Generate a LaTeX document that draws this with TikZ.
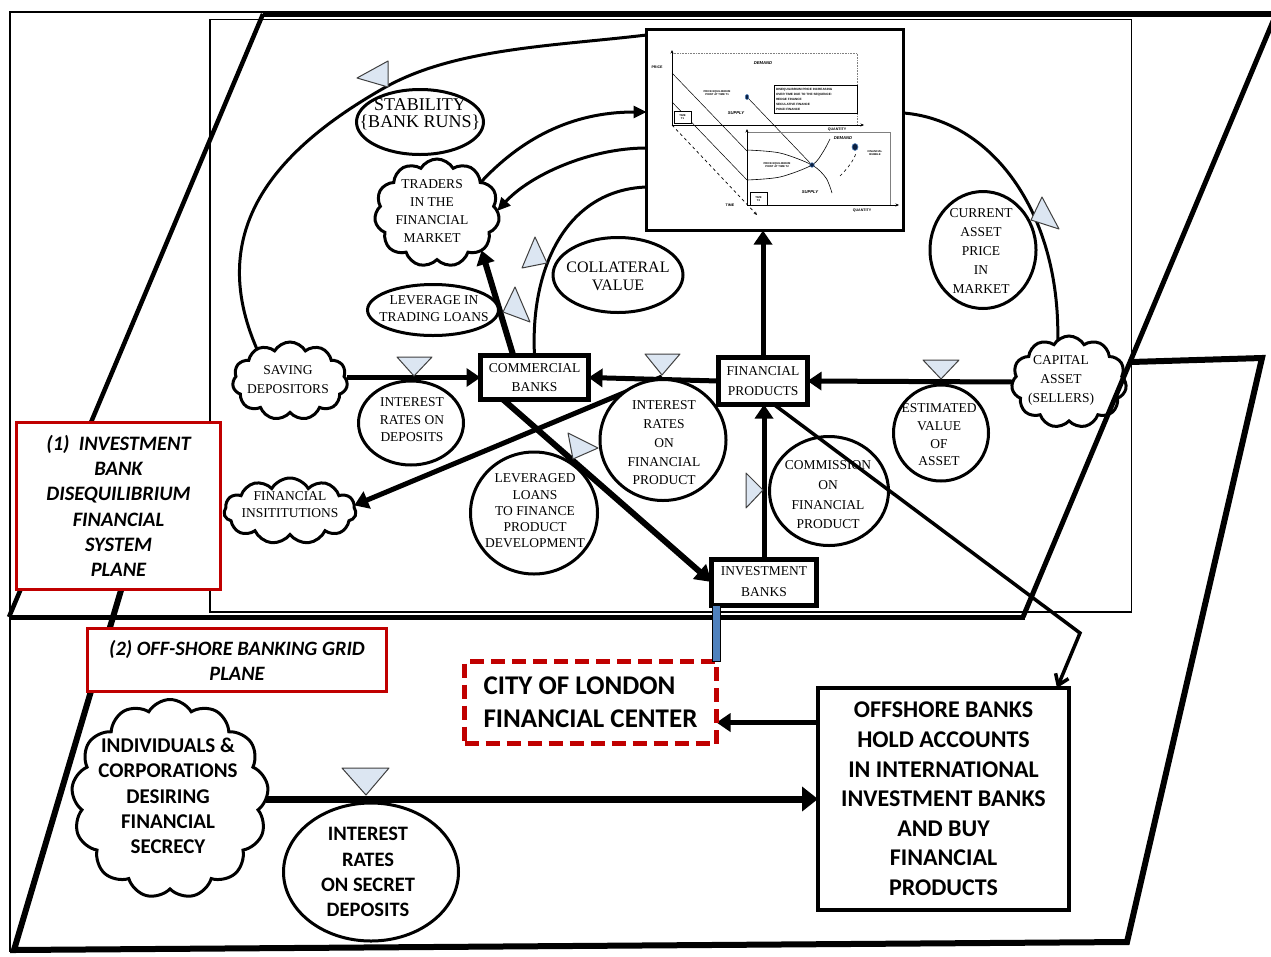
\documentclass[tikz,border=0pt]{standalone}
\usepackage{fontspec}
\setmainfont{Liberation Serif}
\newfontfamily\calfont{Carlito}
\newfontfamily\chfont{Liberation Sans}
\usetikzlibrary{shapes.geometric,shapes.symbols,arrows.meta,calc}
\pgfdeclarelayer{back}
\pgfdeclarelayer{edges}
\pgfdeclarelayer{front}
\pgfsetlayers{back,edges,main,front}
\definecolor{valveblue}{HTML}{DCE6F2}
\definecolor{boxred}{HTML}{C00000}
\definecolor{barblue}{HTML}{4F81BD}
\definecolor{dotnavy}{HTML}{0B1F3F}
\tikzset{
  every node/.style={inner sep=0pt, outer sep=0pt},
  txt/.style={align=center, font=\fontsize{13.5}{#1}\selectfont},
  txt/.default=18,
  ell/.style={ellipse, draw, line width=3pt, fill=white},
  cld/.style={cloud, cloud puffs=#1, cloud puff arc=120, cloud ignores aspect, draw, line width=3pt, fill=white},
  cld/.default=11,
  rbox/.style={rectangle, draw, line width=5pt, fill=white, align=center},
  flow/.style={line width=5pt, -{Triangle[length=14pt,width=18pt]}},
  link/.style={line width=3pt},
  linkarr/.style={line width=3pt, -{Triangle[length=13pt,width=12pt]}},
  valve/.style={fill=valveblue, draw=black!75, line width=1pt, line join=round},
  plane/.style={line width=#1},
  redbox/.style={rectangle, draw=boxred, line width=3pt, fill=white, align=center},
  chb/.style={font=\chfont\bfseries\fontsize{3.6}{4}\selectfont},
  chbi/.style={font=\chfont\bfseries\itshape\fontsize{4.2}{5}\selectfont},
  cht/.style={align=center, font=\chfont\bfseries\fontsize{2.7}{3.2}\selectfont},
  chline/.style={line width=0.5pt},
  charr/.style={line width=0.7pt, -{Stealth[length=3.5pt,width=3pt]}},
}
\begin{document}
\begin{tikzpicture}[x=1pt,y=-1pt]
\useasboundingbox (0,0) rectangle (1271,956);

% ---------- shapes of the diagram ----------
% price chart
\node[draw, line width=3pt, fill=white, minimum width=257pt, minimum height=201pt] (chart) at (775,130) {};

% ellipses
\node[ell, minimum width=127pt, minimum height=65pt] (stab) at (420,122) {};
\node[txt, font=\fontsize{18}{17.5}\selectfont] (stabT) at (420,114) {STABILITY\\\{BANK RUNS\}};
\node[ell, minimum width=131pt, minimum height=51pt] (lev) at (433,310) {};
\node[txt=17] (levT) at (434,309) {LEVERAGE IN\\TRADING LOANS};
\node[ell, minimum width=130pt, minimum height=75pt] (coll) at (618,275) {};
\node[txt, font=\fontsize{16}{18}\selectfont] (collT) at (618,276) {COLLATERAL\\VALUE};
\node[ell, minimum width=105pt, minimum height=84pt] (ird) at (411,423) {};
\node[txt=17.5] (irdT) at (412,420) {INTEREST\\RATES ON\\DEPOSITS};
\node[ell, minimum width=126pt, minimum height=121pt] (irfp) at (663,440) {};
\node[txt=18.75] (irfpT) at (664,443) {INTEREST\\RATES\\ON\\FINANCIAL\\PRODUCT};
\node[ell, minimum width=127pt, minimum height=122pt] (llf) at (534,513) {};
\node[txt=16.25] (llfT) at (535,511) {LEVERAGED\\LOANS\\TO FINANCE\\PRODUCT\\DEVELOPMENT};
\node[ell, minimum width=119pt, minimum height=109pt] (comm) at (829,491) {};
\node[txt=19.7] (commT) at (828,495) {COMMISSION\\ON\\FINANCIAL\\PRODUCT};
\node[ell, minimum width=95pt, minimum height=96pt] (est) at (941,433) {};
\node[txt=17.7] (estT) at (939,435) {ESTIMATED\\VALUE\\OF\\ASSET};
\node[ell, minimum width=106pt, minimum height=117pt] (cur) at (983,250) {};
\node[txt=19] (curT) at (981,251) {CURRENT\\ASSET\\PRICE\\IN\\MARKET};
\node[ell, minimum width=175pt, minimum height=138pt] (irsd) at (371,872) {};
\node[align=center, font=\calfont\bfseries\fontsize{20.5}{25.3}\selectfont] (irsdT) at (368,872) {INTEREST\\RATES\\ON SECRET\\DEPOSITS};

% clouds
\node[cld, minimum width=125pt, minimum height=108pt] (trad) at (437,213) {};
\node[txt=18] (tradT) at (432,211) {TRADERS\\IN THE\\FINANCIAL\\MARKET};
\node[cld, minimum width=115pt, minimum height=78pt] (sav) at (290,381) {};
\node[txt=19] (savT) at (288,380) {SAVING\\DEPOSITORS};
\node[cld, minimum width=132pt, minimum height=66pt] (fi) at (290,511) {};
\node[txt=17] (fiT) at (290,505) {FINANCIAL\\INSITITUTIONS};
\node[cld, minimum width=115pt, minimum height=92pt] (cap) at (1069,382) {};
\node[txt=19] (capT) at (1061,380) {CAPITAL\\ASSET\\(SELLERS)};
\node[cld=13, minimum width=197pt, minimum height=199pt] (ind) at (170,799) {};
\node[align=center, font=\calfont\bfseries\fontsize{21}{25.2}\selectfont] (indT) at (168,796) {INDIVIDUALS \&\\CORPORATIONS\\DESIRING\\FINANCIAL\\SECRECY};

% banks
\node[rbox, minimum width=108pt, minimum height=44pt, font=\fontsize{13.5}{19}\selectfont] (cb) at (534.5,377.5) {COMMERCIAL\\BANKS};
\node[rbox, minimum width=89pt, minimum height=47pt, font=\fontsize{13.5}{20}\selectfont] (fp) at (763,381) {FINANCIAL\\PRODUCTS};
\node[rbox, minimum width=105pt, minimum height=46pt, font=\fontsize{13.5}{21}\selectfont] (ib) at (764,582) {INVESTMENT\\BANKS};

% off-shore plane boxes
\node[draw=boxred, line width=5pt, dash pattern=on 14pt off 7pt, fill=white, minimum width=252pt, minimum height=82pt, align=left, font=\calfont\bfseries\fontsize{27}{33}\selectfont] (city) at (590.5,702.5) {CITY OF LONDON\\FINANCIAL CENTER};
\node[draw, line width=3.5pt, fill=white, minimum width=251pt, minimum height=222pt, align=center, font=\calfont\bfseries\fontsize{24}{29.6}\selectfont] (off) at (943.5,799) {OFFSHORE BANKS\\HOLD ACCOUNTS\\IN INTERNATIONAL\\INVESTMENT BANKS\\AND BUY\\FINANCIAL\\PRODUCTS};

% ---------- chart contents ----------
% upper panel (time T1)
\draw[gray, densely dotted, line width=0.6pt] (672,53) -- (857,53) -- (857,125);
\draw[charr] (672,125) -- (672,50);
\draw[charr] (672,125) -- (864,125);
\draw[chline] (672,73) -- (747,151);
\draw[chline] (672,102) -- (747,180);
\draw[chline] (747,97) -- (812,165);
\draw[charr, dashed] (672,125) -- (757,215);
\node[chb] (cPrice) at (657,67) {PRICE};
\node[chbi] (cDem1) at (763,63) {DEMAND};
\node[cht] (cEq1) at (717,93) {PRICE EQUILIBRIUM\\POINT AT TIME T1};
\filldraw[fill=dotnavy, draw=barblue, line width=0.5pt] (747,97) ellipse (1.8 and 2.6);
\node[chbi] (cSup1) at (736,113) {SUPPLY};
\node[draw, line width=0.6pt, fill=white, minimum width=17pt, minimum height=12pt, cht] (cT1) at (682.5,117) {TIME\\T1};
\draw[line width=0.8pt] (774,85) rectangle (857,113);
\node[cht, font=\chfont\bfseries\fontsize{3.1}{5}\selectfont, align=left, anchor=west] (cNote) at (776,99) {DISEQUILIBRIUM PRICE INCREASING\\OVER TIME DUE TO THE SEQUENCE:\\HEDGE FINANCE\\SECULATIVE FINANCE\\PONZI FINANCE};
\node[chb] (cQ1) at (837,130) {QUANTITY};
% lower panel (time T2)
\draw[gray, line width=0.6pt] (747,132) -- (890,132) -- (890,205);
\draw[charr] (747,205) -- (747,129);
\draw[charr] (747,205) -- (899,205);
\draw[line width=0.6pt] plot[smooth] coordinates {(747,150) (780,153) (812,165) (826,178) (832,193)};
\draw[line width=0.6pt] plot[smooth] coordinates {(747,180) (780,177) (812,165) (823,152) (830,139)};
\draw[line width=0.6pt, dashed] (840,176) .. controls (848,168) and (854,160) .. (856,153);
\filldraw[fill=dotnavy, draw=barblue, line width=0.5pt] (812,165) circle (2.3);
\filldraw[fill=dotnavy, draw=barblue, line width=0.6pt] (855,147) ellipse (3 and 3.5);
\node[chbi] (cDem2) at (843,138) {DEMAND};
\node[cht] (cBub) at (875,153) {FINANCIAL\\BUBBLE};
\node[cht] (cEq2) at (777,165) {PRICE EQUILIBRIUM\\POINT AT TIME T2};
\node[chbi] (cSup2) at (810,192) {SUPPLY};
\node[draw, line width=0.6pt, fill=white, minimum width=17pt, minimum height=13pt, cht] (cT2) at (758.5,199) {TIME\\T2};
\node[chb] (cTime) at (730,205) {TIME};
\node[chb] (cQ2) at (862,211) {QUANTITY};

% ---------- planes, frame ----------
\begin{pgfonlayer}{back}
\fill[white] (0,0) rectangle (1271,956);
\draw[line width=1.5pt] (1275,12) -- (10,12) -- (10,952);
% lower plane: off-shore banking grid
\draw[plane=6pt] (1131,362) -- (1262,358) -- (1127,942) -- (14,950) -- (130,560);
% inner frame of the upper plane
\draw[line width=1.5pt] (210,19.5) rectangle (1131.5,612);
\end{pgfonlayer}

% ---------- connectors ----------
\begin{pgfonlayer}{edges}
\draw[link] (sav.136) .. controls (205,230) and (275,150) .. (384,88) .. controls (454,48) and (555,46) .. ([yshift=95pt]chart.west);
\draw[linkarr] (trad.35) .. controls (520,140) and (570,112) .. ([yshift=18pt]chart.west);
\draw[linkarr] ([yshift=-18pt]chart.west) .. controls (590,148) and (530,175) .. (trad.2);
\draw[link] (cb.north) .. controls (530,270) and (565,190) .. ([yshift=-57pt]chart.west);
\draw[link] ([yshift=17pt]chart.east) .. controls (990,120) and (1060,210) .. (cap.105);
\draw[flow, line width=6pt] (cb.134) -- (trad.-40);
\draw[flow] (sav.east |- cb.west) -- (cb.west);
\draw[flow] (fp.west) -- (cb.east);
\draw[flow] (cap.west) -- (fp.east);
\draw[flow] (fp.north) -- (fp.north |- chart.south);
\draw[flow] (ib.north) -- (ib.north |- fp.south);
\draw[flow, line width=6pt, -{Triangle[length=16pt,width=19pt]}] (cb.-145) -- (ib.west);
\coordinate (fpv) at (662,377);
\draw[flow] (fpv) -- (fi.5);
\draw[flow, line width=7pt, -{Triangle[length=16pt,width=24pt]}] (ind.east) -- (ind.east -| off.west);
\coordinate (cityin) at ($(city.east)+(0,20)$);
\draw[flow] (off.west |- cityin) -- (cityin);
\end{pgfonlayer}

% ---------- overlays ----------
\begin{pgfonlayer}{front}
% upper plane: investment bank disequilibrium financial system
\draw[plane=6pt] (263,14) -- (1280,14);
\draw[plane=4.5pt] (263,14) -- (9,617);
\draw[plane=5pt] (9,617) -- (1025,617);
\draw[plane=5pt] (1276,14) -- (1023,617);
% financial products to offshore banks
\coordinate (kink) at (1080,633);
\draw[line width=3.5pt, -{Straight Barb[length=10pt,width=14pt]}] (fp.-65) -- (kink) -- ([xshift=-12pt]off.north east);
% valves
\filldraw[valve] (357,78) -- (388,61) -- (388,87) -- cycle;
\filldraw[valve] (522,268) -- (535,237) -- (547,263) -- cycle;
\filldraw[valve] (503,312) -- (515,287) -- (530,322) -- cycle;
\filldraw[valve] (397,357) -- (432,357) -- (414,376) -- cycle;
\filldraw[valve] (645,354) -- (680,354) -- (662,375) -- cycle;
\filldraw[valve] (568,433) -- (598,448) -- (573,459) -- cycle;
\filldraw[valve] (746,473) -- (763,490) -- (746,508) -- cycle;
\filldraw[valve] (923,360) -- (959,360) -- (941,379) -- cycle;
\filldraw[valve] (1031,220) -- (1042,197) -- (1059,229) -- cycle;
\filldraw[valve] (342,768) -- (389,768) -- (366,795) -- cycle;
% link from the investment banks to the City of London
\draw[fill=barblue, draw=black, line width=1pt] ($(city.north east |- ib.south)+(-4,0)$) rectangle ($(city.north east)+(4,0)$);
% plane labels
\node[redbox, minimum width=204pt, minimum height=167pt, font=\calfont\bfseries\itshape\fontsize{20.5}{25.3}\selectfont] (plane1) at (118.5,506) {(1)\ \ INVESTMENT\\BANK\\DISEQUILIBRIUM\\FINANCIAL\\SYSTEM\\PLANE};
\node[redbox, minimum width=299pt, minimum height=63pt, font=\calfont\bfseries\itshape\fontsize{20.4}{25}\selectfont] (plane2) at (237,660) {(2) OFF-SHORE BANKING GRID\\PLANE};
\end{pgfonlayer}
\end{tikzpicture}
\end{document}
